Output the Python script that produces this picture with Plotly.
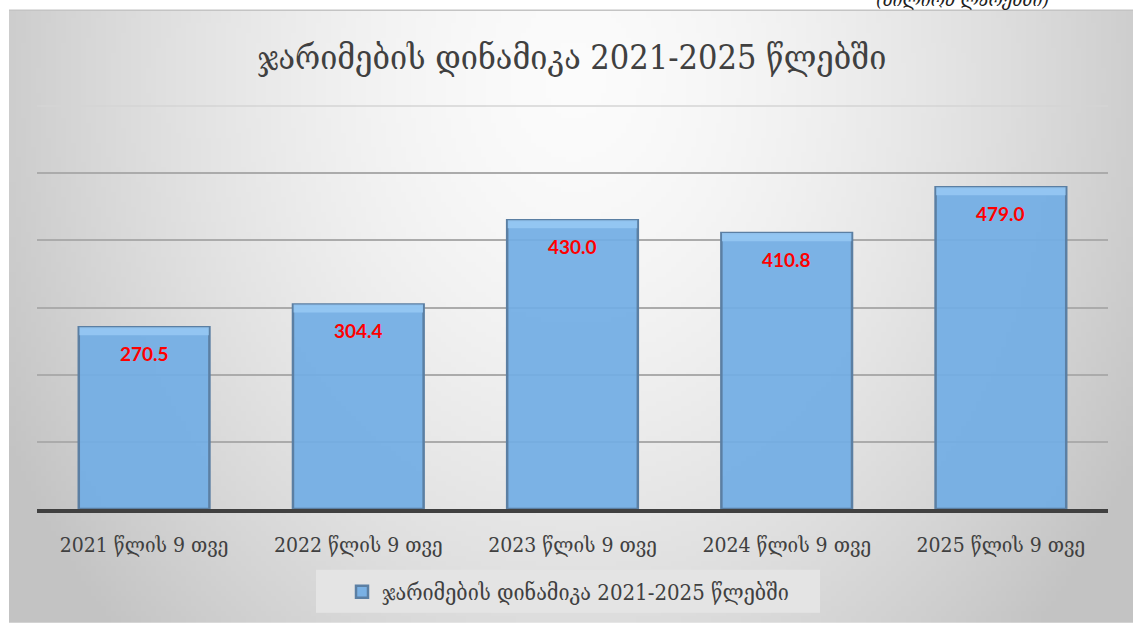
import base64
import struct
import zlib

import plotly.graph_objects as go

# ---------------- data ----------------
categories = ["2021 წლის 9 თვე", "2022 წლის 9 თვე", "2023 წლის 9 თვე",
              "2024 წლის 9 თვე", "2025 წლის 9 თვე"]
values = [270.5, 304.4, 430.0, 410.8, 479.0]
series_name = "ჯარიმების დინამიკა 2021-2025 წლებში"
title_text = "ჯარიმების დინამიკა 2021-2025 წლებში"
unit_text = "(მილიონ ლარებში)"
grid_vals = [100, 200, 300, 400, 500]

W, H = 1133, 624
ML, MR, MT, MB = 37, 25, 106, 114
PW, PH = W - ML - MR, H - MT - MB


def px_to_paper_x(px):
    return (px - ML) / PW


def px_to_paper_y(py):
    return (H - MB - py) / PH


# ---------------- background gradient image (pure python png) ----------------
IW, IH = 225, 123
BG_X0, BG_Y0 = 9, 10
rows = []
for j in range(IH):
    sy = BG_Y0 + (j + 0.5) * (H - BG_Y0) / IH
    row = bytearray([0])
    for i in range(IW):
        sx = BG_X0 + (i + 0.5) * (W - BG_X0) / IW
        dx = (sx - 575) / 640
        dy = (sy - 80) / 800
        t = min(1.0, (dx * dx + dy * dy) ** 0.5)
        c = int(round(251 - 56 * t ** 1.6))
        row.append(c)
    rows.append(bytes(row))
raw = b"".join(rows)


def chunk(tag, data):
    c = struct.pack(">I", len(data)) + tag + data
    return c + struct.pack(">I", zlib.crc32(tag + data) & 0xFFFFFFFF)


png = (b"\x89PNG\r\n\x1a\n"
       + chunk(b"IHDR", struct.pack(">IIBBBBB", IW, IH, 8, 0, 0, 0, 0))
       + chunk(b"IDAT", zlib.compress(raw, 9))
       + chunk(b"IEND", b""))
bg_uri = "data:image/png;base64," + base64.b64encode(png).decode()

GEO_FONT = "DejaVu Serif Condensed, DejaVu Serif, DejaVu Sans"
TEXT_COLOR = "#404040"
BAR_W = 0.61
BEVEL = 12

fig = go.Figure()

# main bar face with frame
fig.add_trace(go.Bar(
    x=categories, y=values, name=series_name, width=BAR_W,
    marker=dict(color="rgba(114,173,228,0.93)",
                line=dict(color="#5b7fa3", width=2.5)),
    showlegend=True, hoverinfo="skip",
))
# top bevel highlight
fig.add_trace(go.Bar(
    x=categories, y=[BEVEL] * len(values), base=[v - BEVEL for v in values],
    width=BAR_W - 0.006, marker=dict(color="rgba(150,200,243,0.9)",
                                     line=dict(width=0)),
    showlegend=False, hoverinfo="skip",
))

annotations = []
for c, v in zip(categories, values):
    annotations.append(dict(
        x=c, y=v, xref="x", yref="y", text=f"<b>{v:.1f}</b>", showarrow=False,
        yanchor="middle", yshift=-26,
        font=dict(family="Lato, Liberation Sans, sans-serif", size=19, color="#ff0000"),
    ))
annotations.append(dict(
    x=px_to_paper_x(962), y=px_to_paper_y(-1), xref="paper", yref="paper",
    text=unit_text, showarrow=False, xanchor="center", yanchor="middle",
    font=dict(family=GEO_FONT, size=19, color="#202020", style="italic"),
))

fig.update_layout(
    width=W, height=H,
    margin=dict(l=ML, r=MR, t=MT, b=MB, pad=0),
    paper_bgcolor="white",
    plot_bgcolor="rgba(0,0,0,0)",
    barmode="overlay",
    title=dict(text=title_text, x=px_to_paper_x(572), xref="paper",
               xanchor="center", y=1 - 57 / H, yanchor="middle",
               font=dict(family=GEO_FONT, size=34, color=TEXT_COLOR)),
    font=dict(family=GEO_FONT, color=TEXT_COLOR),
    showlegend=True,
    legend=dict(orientation="h", x=px_to_paper_x(568), xanchor="center",
                y=px_to_paper_y(592), yanchor="middle",
                bgcolor="rgba(0,0,0,0)", itemwidth=30,
                font=dict(family=GEO_FONT, size=22, color=TEXT_COLOR)),
    annotations=annotations,
    images=[dict(source=bg_uri, xref="paper", yref="paper",
                 x=px_to_paper_x(BG_X0), y=px_to_paper_y(BG_Y0),
                 sizex=(W - BG_X0) / PW, sizey=(H - BG_Y0) / PH,
                 xanchor="left", yanchor="top", sizing="stretch",
                 layer="below")],
    shapes=[
        # legend box
        dict(type="rect", xref="paper", yref="paper",
             x0=px_to_paper_x(316), x1=px_to_paper_x(820),
             y0=px_to_paper_y(614), y1=px_to_paper_y(571),
             fillcolor="#e4e4e4", line=dict(width=0), layer="below"),
        # chart area top border
        dict(type="line", xref="paper", yref="paper",
             x0=px_to_paper_x(BG_X0), x1=px_to_paper_x(W),
             y0=px_to_paper_y(BG_Y0), y1=px_to_paper_y(BG_Y0),
             line=dict(color="#c4c4c4", width=1.5), layer="below"),
        # faint top gridline
        dict(type="line", xref="paper", yref="paper", x0=0, x1=1, y0=1, y1=1,
             line=dict(color="#d4d4d4", width=1.5), layer="below"),
    ],
    bargap=1 - BAR_W,
)

fig.update_xaxes(
    showline=True, linecolor="#404040", linewidth=3.5,
    showgrid=False, ticks="outside", ticklen=14, tickcolor="rgba(0,0,0,0)",
    tickfont=dict(family=GEO_FONT, size=21, color=TEXT_COLOR),
    fixedrange=True,
)
fig.update_yaxes(
    range=[0, 600], tickvals=grid_vals, showticklabels=False,
    showgrid=True, gridcolor="#ababab", gridwidth=1.5,
    zeroline=False, showline=False, fixedrange=True,
)

fig.write_html("out.html",
               config={"displayModeBar": False},
               post_script="document.body.style.margin='0';document.body.style.overflow='hidden';")
